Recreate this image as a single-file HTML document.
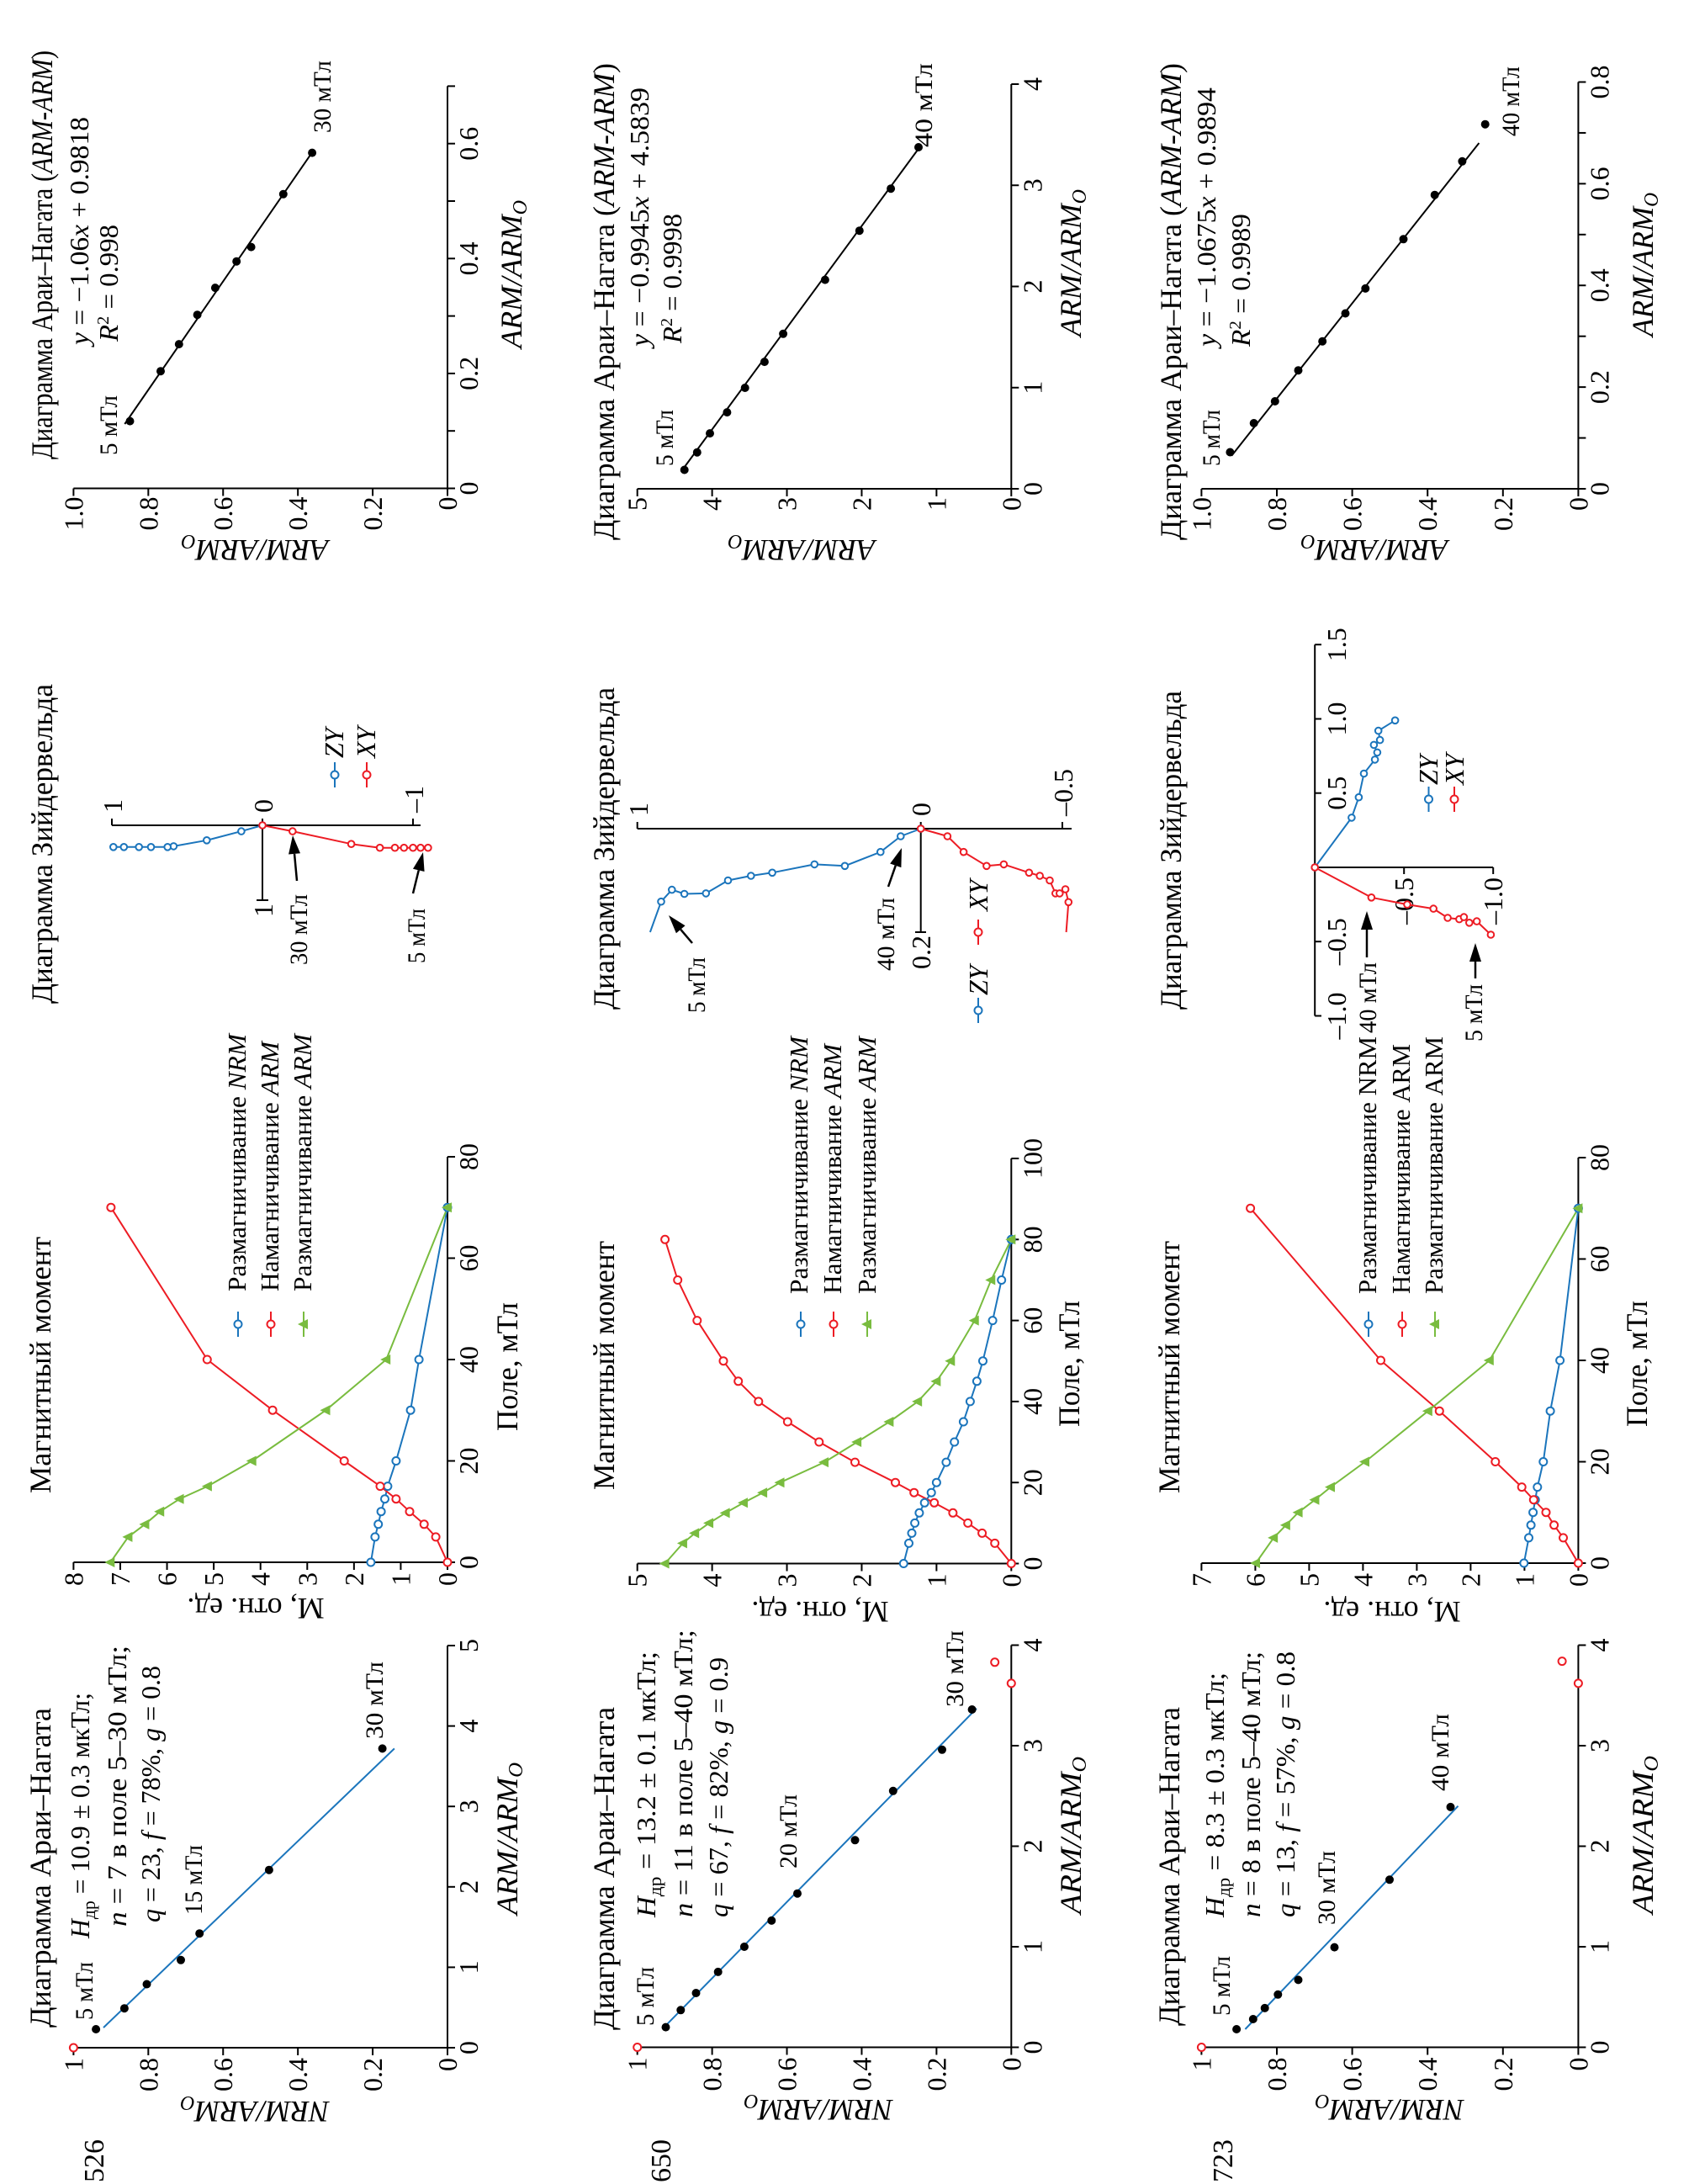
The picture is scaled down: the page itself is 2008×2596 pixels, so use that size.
<!DOCTYPE html>
<html><head><meta charset="utf-8"><title>Араи–Нагата / Зийдервельд</title>
<style>
html,body{margin:0;padding:0;background:#fff;}
svg{display:block;font-family:"Liberation Serif","DejaVu Serif",serif;}
text{fill:#000;}
</style></head>
<body>
<svg id="chart" xmlns="http://www.w3.org/2000/svg" width="2008" height="2596" viewBox="0 0 2008 2596">
<rect x="0" y="0" width="2008" height="2596" fill="#fff"/>
<g id="rot" transform="translate(0,2596) rotate(-90)">

<!-- ===== ROW 1 (526) ===== -->
<text x="2" y="123" font-size="34">526</text>
<text x="186" y="60" font-size="36" textLength="380" lengthAdjust="spacingAndGlyphs">Диаграмма Араи–Нагата</text>
<text x="292" y="106" font-size="32" textLength="292" lengthAdjust="spacingAndGlyphs"><tspan font-style="italic">H</tspan><tspan font-size="22" dy="7">др</tspan><tspan dy="-7"> = 10.9 ± 0.3 мкТл;</tspan></text>
<text x="306" y="150" font-size="32" textLength="334" lengthAdjust="spacingAndGlyphs"><tspan font-style="italic">n</tspan> = 7 в поле 5–30 мТл;</text>
<text x="311" y="190" font-size="32" textLength="305" lengthAdjust="spacingAndGlyphs"><tspan font-style="italic">q</tspan> = 23, <tspan font-style="italic">f</tspan> = 78%, <tspan font-style="italic">g</tspan> = 0.8</text>
<text x="195" y="110" font-size="30" textLength="69" lengthAdjust="spacingAndGlyphs">5 мТл</text>
<text x="320" y="240" font-size="30" textLength="83" lengthAdjust="spacingAndGlyphs">15 мТл</text>
<text x="529" y="455" font-size="30" textLength="92" lengthAdjust="spacingAndGlyphs">30 мТл</text>
<text transform="translate(98,303) rotate(-90)" text-anchor="middle" font-size="36" font-style="italic">NRM/ARM<tspan font-size="24" dy="6">O</tspan></text>
<text x="320" y="615" font-size="36" font-style="italic" textLength="181" lengthAdjust="spacingAndGlyphs">ARM/ARM<tspan font-size="24" dy="6">O</tspan></text>

<text x="821" y="60" font-size="36" textLength="305" lengthAdjust="spacingAndGlyphs">Магнитный момент</text>
<text transform="translate(696,304) rotate(-90)" text-anchor="middle" font-size="36">М, отн. ед.</text>
<text x="895" y="615" font-size="36" textLength="153" lengthAdjust="spacingAndGlyphs">Поле, мТл</text>
<text x="1061" y="292" font-size="31" textLength="306" lengthAdjust="spacingAndGlyphs">Размагничивание <tspan font-style="italic">NRM</tspan></text>
<text x="1061" y="331" font-size="31" textLength="297" lengthAdjust="spacingAndGlyphs">Намагничивание <tspan font-style="italic">ARM</tspan></text>
<text x="1061" y="370" font-size="31" textLength="306" lengthAdjust="spacingAndGlyphs">Размагничивание <tspan font-style="italic">ARM</tspan></text>

<text x="1403" y="62" font-size="36" textLength="380" lengthAdjust="spacingAndGlyphs">Диаграмма Зийдервельда</text>
<text x="1449" y="365" font-size="30" textLength="84" lengthAdjust="spacingAndGlyphs">30 мТл</text>
<text x="1451" y="505" font-size="30" textLength="65" lengthAdjust="spacingAndGlyphs">5 мТл</text>
<text x="1695" y="408" font-size="32" font-style="italic">ZY</text>
<text x="1695" y="446" font-size="32" font-style="italic">XY</text>
<g stroke="#000" stroke-width="2">
  <line x1="1615" y1="133" x2="1615" y2="500"/>
  <line x1="1615" y1="133" x2="1623" y2="133"/><line x1="1615" y1="312" x2="1623" y2="312"/><line x1="1615" y1="491" x2="1623" y2="491"/>
  <line x1="1526" y1="312" x2="1623" y2="312"/>
  <line x1="1526" y1="305" x2="1526" y2="319"/>
</g>
<text x="1630" y="145" font-size="32">1</text>
<text x="1630" y="324" font-size="32">0</text>
<text x="1630" y="503" font-size="32">–1</text>
<text x="1522" y="324" font-size="32" text-anchor="end">1</text>

<text x="2050" y="62" font-size="36" textLength="486" lengthAdjust="spacingAndGlyphs">Диаграмма Араи–Нагата (<tspan font-style="italic">ARM-ARM</tspan>)</text>
<text x="2186" y="105" font-size="32" textLength="271" lengthAdjust="spacingAndGlyphs"><tspan font-style="italic">y</tspan> = −1.06<tspan font-style="italic">x</tspan> + 0.9818</text>
<text x="2190" y="140" font-size="32" textLength="139" lengthAdjust="spacingAndGlyphs"><tspan font-style="italic">R</tspan><tspan font-size="20" dy="-11">2</tspan><tspan dy="11"> = 0.998</tspan></text>
<text x="2055" y="139" font-size="30" textLength="71" lengthAdjust="spacingAndGlyphs">5 мТл</text>
<text x="2438" y="393" font-size="30" textLength="86" lengthAdjust="spacingAndGlyphs">30 мТл</text>
<text x="2182" y="620" font-size="36" font-style="italic" textLength="176" lengthAdjust="spacingAndGlyphs">ARM/ARM<tspan font-size="24" dy="6">O</tspan></text>
<text transform="translate(1954,303) rotate(-90)" text-anchor="middle" font-size="36" font-style="italic">ARM/ARM<tspan font-size="24" dy="6">O</tspan></text>

<!-- ===== ROW 2 (650) ===== -->
<text x="2" y="797" font-size="34">650</text>
<text x="183" y="730" font-size="36" textLength="384" lengthAdjust="spacingAndGlyphs">Диаграмма Араи–Нагата</text>
<text x="317" y="779" font-size="32" textLength="316" lengthAdjust="spacingAndGlyphs"><tspan font-style="italic">H</tspan><tspan font-size="22" dy="7">др</tspan><tspan dy="-7"> = 13.2 ± 0.1 мкТл;</tspan></text>
<text x="317" y="823" font-size="32" textLength="342" lengthAdjust="spacingAndGlyphs"><tspan font-style="italic">n</tspan> = 11 в поле 5–40 мТл;</text>
<text x="317" y="865" font-size="32" textLength="309" lengthAdjust="spacingAndGlyphs"><tspan font-style="italic">q</tspan> = 67, <tspan font-style="italic">f</tspan> = 82%, <tspan font-style="italic">g</tspan> = 0.9</text>
<text x="188" y="777" font-size="30" textLength="70" lengthAdjust="spacingAndGlyphs">5 мТл</text>
<text x="375" y="947" font-size="30" textLength="88" lengthAdjust="spacingAndGlyphs">20 мТл</text>
<text x="567" y="1145" font-size="30" textLength="91" lengthAdjust="spacingAndGlyphs">30 мТл</text>
<text transform="translate(100,973) rotate(-90)" text-anchor="middle" font-size="36" font-style="italic">NRM/ARM<tspan font-size="24" dy="6">O</tspan></text>
<text x="321" y="1285" font-size="36" font-style="italic" textLength="187" lengthAdjust="spacingAndGlyphs">ARM/ARM<tspan font-size="24" dy="6">O</tspan></text>

<text x="825" y="730" font-size="36" textLength="296" lengthAdjust="spacingAndGlyphs">Магнитный момент</text>
<text transform="translate(692,975) rotate(-90)" text-anchor="middle" font-size="36">М, отн. ед.</text>
<text x="900" y="1283" font-size="36" textLength="150" lengthAdjust="spacingAndGlyphs">Поле, мТл</text>
<text x="1058" y="960" font-size="31" textLength="306" lengthAdjust="spacingAndGlyphs">Размагничивание <tspan font-style="italic">NRM</tspan></text>
<text x="1058" y="1000" font-size="31" textLength="297" lengthAdjust="spacingAndGlyphs">Намагничивание <tspan font-style="italic">ARM</tspan></text>
<text x="1058" y="1041" font-size="31" textLength="306" lengthAdjust="spacingAndGlyphs">Размагничивание <tspan font-style="italic">ARM</tspan></text>

<text x="1396" y="730" font-size="36" textLength="383" lengthAdjust="spacingAndGlyphs">Диаграмма Зийдервельда</text>
<text x="1392" y="838" font-size="30" textLength="66" lengthAdjust="spacingAndGlyphs">5 мТл</text>
<text x="1442" y="1063" font-size="30" textLength="87" lengthAdjust="spacingAndGlyphs">40 мТл</text>
<text x="1413" y="1174" font-size="32" font-style="italic">ZY</text>
<text x="1513" y="1174" font-size="32" font-style="italic">XY</text>
<g stroke="#000" stroke-width="2">
  <line x1="1611" y1="757.7" x2="1611" y2="1274"/>
  <line x1="1611" y1="757.7" x2="1619" y2="757.7"/><line x1="1611" y1="1094.7" x2="1619" y2="1094.7"/><line x1="1611" y1="1263" x2="1619" y2="1263"/>
  <line x1="1488" y1="1094.7" x2="1611" y2="1094.7"/>
  <line x1="1488" y1="1088" x2="1488" y2="1101"/>
</g>
<text x="1626" y="770" font-size="32">1</text>
<text x="1626" y="1106" font-size="32">0</text>
<text x="1626" y="1275" font-size="32">–0.5</text>
<text x="1484" y="1106" font-size="32" text-anchor="end">0.2</text>

<text x="1954" y="730" font-size="36" textLength="567" lengthAdjust="spacingAndGlyphs">Диаграмма Араи–Нагата (<tspan font-style="italic">ARM-ARM</tspan>)</text>
<text x="2184" y="771" font-size="32" textLength="308" lengthAdjust="spacingAndGlyphs"><tspan font-style="italic">y</tspan> = −0.9945<tspan font-style="italic">x</tspan> + 4.5839</text>
<text x="2188" y="810" font-size="32" textLength="154" lengthAdjust="spacingAndGlyphs"><tspan font-style="italic">R</tspan><tspan font-size="20" dy="-11">2</tspan><tspan dy="11"> = 0.9998</tspan></text>
<text x="2042" y="800" font-size="30" textLength="67" lengthAdjust="spacingAndGlyphs">5 мТл</text>
<text x="2421" y="1108" font-size="30" textLength="100" lengthAdjust="spacingAndGlyphs">40 мТл</text>
<text x="2196" y="1285" font-size="36" font-style="italic" textLength="175" lengthAdjust="spacingAndGlyphs">ARM/ARM<tspan font-size="24" dy="6">O</tspan></text>
<text transform="translate(1954,953) rotate(-90)" text-anchor="middle" font-size="36" font-style="italic">ARM/ARM<tspan font-size="24" dy="6">O</tspan></text>

<!-- ===== ROW 3 (723) ===== -->
<text x="2" y="1465" font-size="34">723</text>
<text x="188" y="1402" font-size="36" textLength="379" lengthAdjust="spacingAndGlyphs">Диаграмма Араи–Нагата</text>
<text x="317" y="1455" font-size="32" textLength="291" lengthAdjust="spacingAndGlyphs"><tspan font-style="italic">H</tspan><tspan font-size="22" dy="7">др</tspan><tspan dy="-7"> = 8.3 ± 0.3 мкТл;</tspan></text>
<text x="317" y="1498" font-size="32" textLength="316" lengthAdjust="spacingAndGlyphs"><tspan font-style="italic">n</tspan> = 8 в поле 5–40 мТл;</text>
<text x="317" y="1539" font-size="32" textLength="316" lengthAdjust="spacingAndGlyphs"><tspan font-style="italic">q</tspan> = 13, <tspan font-style="italic">f</tspan> = 57%, <tspan font-style="italic">g</tspan> = 0.8</text>
<text x="200" y="1462" font-size="30" textLength="71" lengthAdjust="spacingAndGlyphs">5 мТл</text>
<text x="308" y="1587" font-size="30" textLength="88" lengthAdjust="spacingAndGlyphs">30 мТл</text>
<text x="467" y="1722" font-size="30" textLength="92" lengthAdjust="spacingAndGlyphs">40 мТл</text>
<text transform="translate(100,1652) rotate(-90)" text-anchor="middle" font-size="36" font-style="italic">NRM/ARM<tspan font-size="24" dy="6">O</tspan></text>
<text x="321" y="1965" font-size="36" font-style="italic" textLength="188" lengthAdjust="spacingAndGlyphs">ARM/ARM<tspan font-size="24" dy="6">O</tspan></text>

<text x="821" y="1402" font-size="36" textLength="300" lengthAdjust="spacingAndGlyphs">Магнитный момент</text>
<text transform="translate(692,1655) rotate(-90)" text-anchor="middle" font-size="36">М, отн. ед.</text>
<text x="900" y="1958" font-size="36" textLength="150" lengthAdjust="spacingAndGlyphs">Поле, мТл</text>
<text x="1058" y="1636" font-size="31" textLength="306" lengthAdjust="spacingAndGlyphs">Размагничивание NRM</text>
<text x="1058" y="1676" font-size="31" textLength="297" lengthAdjust="spacingAndGlyphs">Намагничивание ARM</text>
<text x="1058" y="1715" font-size="31" textLength="306" lengthAdjust="spacingAndGlyphs">Размагничивание ARM</text>

<text x="1396" y="1404" font-size="36" textLength="379" lengthAdjust="spacingAndGlyphs">Диаграмма Зийдервельда</text>
<text x="1368" y="1636" font-size="30" textLength="84" lengthAdjust="spacingAndGlyphs">40 мТл</text>
<text x="1358" y="1762" font-size="30" textLength="68" lengthAdjust="spacingAndGlyphs">5 мТл</text>
<text x="1663" y="1709" font-size="32" font-style="italic">ZY</text>
<text x="1663" y="1740" font-size="32" font-style="italic">XY</text>
<g stroke="#000" stroke-width="2">
  <line x1="1388.5" y1="1563.2" x2="1829.8" y2="1563.2"/>
  <line x1="1388.5" y1="1563.2" x2="1388.5" y2="1571"/><line x1="1476.8" y1="1563.2" x2="1476.8" y2="1571"/><line x1="1565" y1="1563.2" x2="1565" y2="1571"/><line x1="1653.3" y1="1563.2" x2="1653.3" y2="1571"/><line x1="1741.5" y1="1563.2" x2="1741.5" y2="1571"/><line x1="1829.8" y1="1563.2" x2="1829.8" y2="1571"/>
  <line x1="1565" y1="1563.2" x2="1565" y2="1775.2"/>
  <line x1="1557" y1="1669.2" x2="1565" y2="1669.2"/><line x1="1557" y1="1775.2" x2="1565" y2="1775.2"/>
</g>
<text x="1388.5" y="1600" font-size="32" text-anchor="middle">–1.0</text>
<text x="1476.8" y="1600" font-size="32" text-anchor="middle">–0.5</text>
<text x="1653.3" y="1600" font-size="32" text-anchor="middle">0.5</text>
<text x="1741.5" y="1600" font-size="32" text-anchor="middle">1.0</text>
<text x="1829.8" y="1600" font-size="32" text-anchor="middle">1.5</text>
<text x="1553" y="1680" font-size="32" text-anchor="end">–0.5</text>
<text x="1553" y="1786" font-size="32" text-anchor="end">–1.0</text>

<text x="1954" y="1404" font-size="36" textLength="567" lengthAdjust="spacingAndGlyphs">Диаграмма Араи–Нагата (<tspan font-style="italic">ARM-ARM</tspan>)</text>
<text x="2184" y="1445" font-size="32" textLength="308" lengthAdjust="spacingAndGlyphs"><tspan font-style="italic">y</tspan> = −1.0675<tspan font-style="italic">x</tspan> + 0.9894</text>
<text x="2184" y="1486" font-size="32" textLength="158" lengthAdjust="spacingAndGlyphs"><tspan font-style="italic">R</tspan><tspan font-size="20" dy="-11">2</tspan><tspan dy="11"> = 0.9989</tspan></text>
<text x="2042" y="1450" font-size="30" textLength="67" lengthAdjust="spacingAndGlyphs">5 мТл</text>
<text x="2434" y="1806" font-size="30" textLength="83" lengthAdjust="spacingAndGlyphs">40 мТл</text>
<text x="2196" y="1965" font-size="36" font-style="italic" textLength="171" lengthAdjust="spacingAndGlyphs">ARM/ARM<tspan font-size="24" dy="6">O</tspan></text>
<text transform="translate(1954,1634) rotate(-90)" text-anchor="middle" font-size="36" font-style="italic">ARM/ARM<tspan font-size="24" dy="6">O</tspan></text>

<g id="marks"></g>
</g>
</svg>

<script>
// ================= DATA =================
const r1AraiARM = [0.23, 0.49, 0.79, 1.09, 1.42, 2.21, 3.72];
const r1AraiNRM = [0.94, 0.864, 0.804, 0.713, 0.663, 0.477, 0.174];
const r1AraiOutARM = [0];
const r1AraiOutNRM = [1];
const r1AraiFitARM = [0.25, 3.72];
const r1AraiFitNRM = [0.92, 0.142];
const r1AraiXTicks = [0, 1, 2, 3, 4, 5];
const r1AraiXLabels = ['0', '1', '2', '3', '4', '5'];
const r1AraiYTicks = [0, 0.2, 0.4, 0.6, 0.8, 1];
const r1AraiYLabels = ['0', '0.2', '0.4', '0.6', '0.8', '1'];
const r1Field = [0, 5, 7.5, 10, 12.5, 15, 20, 30, 40, 70];
const r1NRMdemag = [1.64, 1.55, 1.48, 1.42, 1.34, 1.28, 1.10, 0.79, 0.61, 0];
const r1ARMacq = [0, 0.25, 0.5, 0.81, 1.1, 1.44, 2.21, 3.74, 5.14, 7.2];
const r1ARMdemag = [7.21, 6.83, 6.47, 6.15, 5.73, 5.13, 4.18, 2.6, 1.31, 0];
const r1MomXTicks = [0, 20, 40, 60, 80];
const r1MomYTicks = [0, 1, 2, 3, 4, 5, 6, 7, 8];
const r1ZijZYh = [0, 0.08, 0.2, 0.28, 0.29, 0.29, 0.29, 0.29, 0.29];
const r1ZijZYv = [0, 0.14, 0.37, 0.59, 0.63, 0.74, 0.82, 0.92, 0.99];
const r1ZijXYh = [0, 0.08, 0.25, 0.3, 0.3, 0.3, 0.3, 0.3, 0.3];
const r1ZijXYv = [0, -0.2, -0.59, -0.78, -0.88, -0.94, -1.0, -1.05, -1.1];
const r1ArmX = [0.117, 0.204, 0.251, 0.302, 0.349, 0.395, 0.420, 0.512, 0.584];
const r1ArmY = [0.849, 0.767, 0.718, 0.669, 0.621, 0.564, 0.525, 0.439, 0.362];
const r1ArmFitSlope = [-1.06];
const r1ArmFitIntercept = [0.9818];
const r1ArmFitRange = [0.112, 0.588];
const r1ArmXTicks = [0, 0.1, 0.2, 0.3, 0.4, 0.5, 0.6, 0.7];
const r1ArmXLabels = ['0', '', '0.2', '', '0.4', '', '0.6', ''];
const r1ArmYTicks = [0, 0.2, 0.4, 0.6, 0.8, 1];
const r1ArmYLabels = ['0', '0.2', '0.4', '0.6', '0.8', '1.0'];

const r2AraiARM = [0.20, 0.37, 0.54, 0.75, 1.0, 1.26, 1.53, 2.06, 2.55, 2.96, 3.36];
const r2AraiNRM = [0.924, 0.884, 0.843, 0.784, 0.714, 0.641, 0.572, 0.418, 0.316, 0.185, 0.105];
const r2AraiOutARM = [0, 3.83, 3.62];
const r2AraiOutNRM = [1, 0.044, 0];
const r2AraiFitARM = [0.19, 3.37];
const r2AraiFitNRM = [0.931, 0.093];
const r2AraiXTicks = [0, 1, 2, 3, 4];
const r2AraiXLabels = ['0', '1', '2', '3', '4'];
const r2AraiYTicks = [0, 0.2, 0.4, 0.6, 0.8, 1];
const r2AraiYLabels = ['0', '0.2', '0.4', '0.6', '0.8', '1'];
const r2Field = [0, 5, 7.5, 10, 12.5, 15, 17.5, 20, 25, 30, 35, 40, 45, 50, 60, 70, 80];
const r2NRMdemag = [1.44, 1.37, 1.33, 1.29, 1.23, 1.16, 1.07, 1.0, 0.87, 0.76, 0.64, 0.55, 0.46, 0.38, 0.25, 0.13, 0];
const r2ARMacq = [0, 0.22, 0.39, 0.58, 0.78, 1.03, 1.30, 1.55, 2.09, 2.57, 2.99, 3.38, 3.65, 3.85, 4.2, 4.46, 4.63];
const r2ARMdemag = [4.63, 4.39, 4.23, 4.04, 3.82, 3.58, 3.32, 3.09, 2.5, 2.06, 1.63, 1.25, 1.0, 0.81, 0.49, 0.27, 0];
const r2MomXTicks = [0, 20, 40, 60, 80, 100];
const r2MomYTicks = [0, 1, 2, 3, 4, 5];
const r2ZijZYh = [0, 0.0146, 0.045, 0.072, 0.069, 0.085, 0.091, 0.10, 0.125, 0.126, 0.118, 0.141];
const r2ZijZYv = [0, 0.071, 0.142, 0.268, 0.375, 0.524, 0.599, 0.68, 0.758, 0.834, 0.878, 0.916];
const r2ZijZYtailH = [0.141, 0.2];
const r2ZijZYtailV = [0.916, 0.955];
const r2ZijXYh = [0, 0.0146, 0.045, 0.072, 0.069, 0.085, 0.091, 0.10, 0.125, 0.125, 0.117, 0.142];
const r2ZijXYv = [0, -0.094, -0.151, -0.232, -0.293, -0.382, -0.42, -0.455, -0.475, -0.49, -0.51, -0.521];
const r2ZijXYtailH = [0.142, 0.2];
const r2ZijXYtailV = [-0.521, -0.513];
const r2ArmX = [0.187, 0.36, 0.548, 0.756, 0.998, 1.255, 1.532, 2.066, 2.551, 2.967, 3.376];
const r2ArmY = [4.37, 4.20, 4.03, 3.80, 3.56, 3.30, 3.05, 2.49, 2.03, 1.61, 1.24];
const r2ArmFitSlope = [-0.9945];
const r2ArmFitIntercept = [4.5839];
const r2ArmFitRange = [0.17, 3.39];
const r2ArmXTicks = [0, 1, 2, 3, 4];
const r2ArmXLabels = ['0', '1', '2', '3', '4'];
const r2ArmYTicks = [0, 1, 2, 3, 4, 5];
const r2ArmYLabels = ['0', '1', '2', '3', '4', '5'];

const r3AraiARM = [0.18, 0.28, 0.39, 0.525, 0.67, 0.995, 1.667, 2.39];
const r3AraiNRM = [0.907, 0.863, 0.832, 0.797, 0.743, 0.647, 0.501, 0.339];
const r3AraiOutARM = [0, 3.84, 3.62];
const r3AraiOutNRM = [1, 0.043, 0];
const r3AraiFitARM = [0.18, 2.40];
const r3AraiFitNRM = [0.884, 0.319];
const r3AraiXTicks = [0, 1, 2, 3, 4];
const r3AraiXLabels = ['0', '1', '2', '3', '4'];
const r3AraiYTicks = [0, 0.2, 0.4, 0.6, 0.8, 1];
const r3AraiYLabels = ['0', '0.2', '0.4', '0.6', '0.8', '1'];
const r3Field = [0, 5, 7.5, 10, 12.5, 15, 20, 30, 40, 70];
const r3NRMdemag = [1.01, 0.92, 0.88, 0.84, 0.80, 0.76, 0.65, 0.52, 0.34, 0];
const r3ARMacq = [0, 0.28, 0.45, 0.60, 0.83, 1.05, 1.54, 2.58, 3.67, 6.09];
const r3ARMdemag = [5.99, 5.66, 5.43, 5.2, 4.89, 4.6, 3.96, 2.79, 1.65, 0];
const r3MomXTicks = [0, 20, 40, 60, 80];
const r3MomYTicks = [0, 1, 2, 3, 4, 5, 6, 7];
const r3ZijZYh = [0, 0.335, 0.472, 0.632, 0.726, 0.774, 0.825, 0.858, 0.92, 0.99];
const r3ZijZYv = [0, -0.206, -0.246, -0.275, -0.337, -0.35, -0.331, -0.365, -0.356, -0.45];
const r3ZijXYh = [0, -0.203, -0.25, -0.278, -0.34, -0.349, -0.335, -0.373, -0.363, -0.453];
const r3ZijXYv = [0, -0.317, -0.518, -0.665, -0.745, -0.81, -0.836, -0.866, -0.908, -0.987];
const r3ArmX = [0.072, 0.129, 0.172, 0.233, 0.29, 0.345, 0.394, 0.491, 0.578, 0.644, 0.717];
const r3ArmY = [0.924, 0.861, 0.805, 0.743, 0.679, 0.618, 0.565, 0.464, 0.381, 0.308, 0.247];
const r3ArmFitSlope = [-1.0675];
const r3ArmFitIntercept = [0.9894];
const r3ArmFitRange = [0.065, 0.68];
const r3ArmXTicks = [0, 0.1, 0.2, 0.3, 0.4, 0.5, 0.6, 0.7, 0.8];
const r3ArmXLabels = ['0', '', '0.2', '', '0.4', '', '0.6', '', '0.8'];
const r3ArmYTicks = [0, 0.2, 0.4, 0.6, 0.8, 1];
const r3ArmYLabels = ['0', '0.2', '0.4', '0.6', '0.8', '1.0'];

// ================= DRAWING =================
const NS = 'http://www.w3.org/2000/svg';
const BLUE = '#1b75bc', RED = '#ed1c24', GREEN = '#79bc3f', BLACK = '#000';
const root = document.getElementById('marks');

function lin(d0, d1, p0, p1) { return function (x) { return p0 + (x - d0) * (p1 - p0) / (d1 - d0); }; }

function mk(tag, parent, name) {
  const e = document.createElementNS(NS, tag);
  
  
  parent.appendChild(e);
  return e;
}
function line(parent, u1, v1, u2, v2, color, w, name) {
  const e = mk('line', parent, name);
  e.setAttribute('x1', u1); e.setAttribute('y1', v1);
  e.setAttribute('x2', u2); e.setAttribute('y2', v2);
  e.setAttribute('stroke', color); e.setAttribute('stroke-width', w);
  return e;
}
function label(parent, u, v, str, anchor, name) {
  const e = mk('text', parent, name);
  e.setAttribute('x', u); e.setAttribute('y', v);
  e.setAttribute('font-size', '32');
  e.setAttribute('text-anchor', anchor);
  e.textContent = str;
  return e;
}
function poly(parent, p, xs, ys, color, name) {
  const e = mk('polyline', parent, name);
  const pts = xs.map(function (x, i) { return p.fu(x).toFixed(1) + ',' + p.fv(ys[i]).toFixed(1); }).join(' ');
  e.setAttribute('points', pts);
  e.setAttribute('fill', 'none'); e.setAttribute('stroke', color);
  e.setAttribute('stroke-width', '2'); e.setAttribute('stroke-linejoin', 'round');
  return e;
}
function circles(parent, p, xs, ys, color, r, filled, name) {
  xs.forEach(function (x, i) {
    const c = mk('circle', parent, name);
    c.setAttribute('cx', p.fu(x).toFixed(1)); c.setAttribute('cy', p.fv(ys[i]).toFixed(1));
    c.setAttribute('r', r);
    c.setAttribute('fill', filled ? color : '#fff');
    c.setAttribute('stroke', color); c.setAttribute('stroke-width', filled ? '1' : '2');
  });
}
function triangles(parent, p, xs, ys, color, name) {
  xs.forEach(function (x, i) {
    const u = p.fu(x), v = p.fv(ys[i]);
    const t = mk('polygon', parent, name);
    t.setAttribute('points', (u) + ',' + (v - 7) + ' ' + (u - 6) + ',' + (v + 5) + ' ' + (u + 6) + ',' + (v + 5));
    t.setAttribute('fill', color);
  });
}
function lAxes(parent, p, xt, xl, yt, yl, yLabelGap, name) {
  const u0 = p.fu(0), v0 = p.fv(0);
  line(parent, u0, v0, u0, p.fv(yt[yt.length - 1]), BLACK, 2, name + '-y-axis');
  line(parent, u0, v0, p.fu(xt[xt.length - 1]), v0, BLACK, 2, name + '-x-axis');
  yt.forEach(function (t, i) {
    line(parent, u0 - 9, p.fv(t), u0, p.fv(t), BLACK, 2, name + '-y-tick');
    if (yl[i] !== '') label(parent, u0 - yLabelGap, p.fv(t) + 11, yl[i], 'end', name + '-y-tick-label');
  });
  xt.forEach(function (t, i) {
    line(parent, p.fu(t), v0, p.fu(t), v0 + 9, BLACK, 2, name + '-x-tick');
    if (xl[i] !== '') label(parent, p.fu(t), v0 + 36, xl[i], 'middle', name + '-x-tick-label');
  });
}
function arrow(parent, u1, v1, u2, v2, name) {
  const dx = u2 - u1, dy = v2 - v1, L = Math.hypot(dx, dy), ux = dx / L, uy = dy / L;
  const hl = 22, hw = 7;
  const bu = u2 - ux * hl, bv = v2 - uy * hl;
  line(parent, u1, v1, bu, bv, BLACK, 2.5, name + '-shaft');
  const h = mk('polygon', parent, name + '-head');
  h.setAttribute('points', u2 + ',' + v2 + ' ' + (bu - uy * hw) + ',' + (bv + ux * hw) + ' ' + (bu + uy * hw) + ',' + (bv - ux * hw));
  h.setAttribute('fill', BLACK);
}
function legendMarker(parent, u, v, color, kind, name) {
  line(parent, u - 15, v, u + 15, v, color, 2, name + '-line');
  if (kind === 'tri') {
    const t = mk('polygon', parent, name + '-marker');
    t.setAttribute('points', u + ',' + (v - 7) + ' ' + (u - 6) + ',' + (v + 5) + ' ' + (u + 6) + ',' + (v + 5));
    t.setAttribute('fill', color);
  } else {
    const c = mk('circle', parent, name + '-marker');
    c.setAttribute('cx', u); c.setAttribute('cy', v); c.setAttribute('r', 4.5);
    c.setAttribute('fill', '#fff'); c.setAttribute('stroke', color); c.setAttribute('stroke-width', 2);
  }
}

const A1 = { fu: lin(0, 5, 162, 640), fv: lin(0, 1, 532, 87.4) };
const A2 = { fu: lin(0, 4, 162.5, 640.5), fv: lin(0, 1, 1202.3, 757.7) };
const A3 = { fu: lin(0, 4, 162.5, 640.5), fv: lin(0, 1, 1876.4, 1428.4) };
const B1 = { fu: lin(0, 80, 739, 1221), fv: lin(0, 8, 532, 87.4) };
const B2 = { fu: lin(0, 100, 737.5, 1219), fv: lin(0, 5, 1202.3, 757.7) };
const B3 = { fu: lin(0, 80, 738, 1220), fv: lin(0, 7, 1876.4, 1428.4) };
const C1 = { fu: lin(0, 1, 1615, 1526), fv: lin(0, 1, 312, 133) };
const C2 = { fu: lin(0, 1, 1611, 996), fv: lin(0, 1, 1094.7, 757.7) };
const C3 = { fu: lin(0, 1, 1565, 1741.5), fv: lin(0, 1, 1563.2, 1351.2) };
const D1 = { fu: lin(0, 0.7, 2015.5, 2493.6), fv: lin(0, 1, 532, 87.4) };
const D2 = { fu: lin(0, 4, 2015, 2496), fv: lin(0, 5, 1202.3, 757.7) };
const D3 = { fu: lin(0, 0.8, 2015, 2498.5), fv: lin(0, 1, 1876.4, 1428.4) };

function drawArai(p, ticks, d, tag) {
  const g = mk('g', root, 'arai-panel-' + tag);
  lAxes(g, p, ticks[0], ticks[1], ticks[2], ticks[3], 12, 'arai-' + tag);
  poly(g, p, d.fitX, d.fitY, BLUE, 'arai-fit-line-' + tag);
  circles(g, p, d.x, d.y, BLACK, 4.5, true, 'arai-point-' + tag);
  circles(g, p, d.ox, d.oy, RED, 4.5, false, 'arai-excluded-point-' + tag);
}
function drawMoment(p, xt, yt, field, nrm, acq, dem, legV, tag) {
  const g = mk('g', root, 'moment-panel-' + tag);
  lAxes(g, p, xt, xt.map(String), yt, yt.map(String), 12, 'moment-' + tag);
  poly(g, p, field, nrm, BLUE, 'nrm-demag-line-' + tag);
  poly(g, p, field, acq, RED, 'arm-acq-line-' + tag);
  poly(g, p, field, dem, GREEN, 'arm-demag-line-' + tag);
  circles(g, p, field, nrm, BLUE, 4.5, false, 'nrm-demag-point-' + tag);
  circles(g, p, field, acq, RED, 4.5, false, 'arm-acq-point-' + tag);
  triangles(g, p, field, dem, GREEN, 'arm-demag-point-' + tag);
  legendMarker(g, 1022, legV[0], BLUE, 'circ', 'legend-nrm-demag-' + tag);
  legendMarker(g, 1022, legV[1], RED, 'circ', 'legend-arm-acq-' + tag);
  legendMarker(g, 1022, legV[2], GREEN, 'tri', 'legend-arm-demag-' + tag);
}
function drawArm(p, ticks, x, y, slope, icpt, range, tag) {
  const g = mk('g', root, 'armarm-panel-' + tag);
  lAxes(g, p, ticks[0], ticks[1], ticks[2], ticks[3], 10, 'armarm-' + tag);
  const fy = range.map(function (xx) { return slope[0] * xx + icpt[0]; });
  poly(g, p, range, fy, BLACK, 'armarm-fit-line-' + tag);
  circles(g, p, x, y, BLACK, 4.5, true, 'armarm-point-' + tag);
}

drawArai(A1, [r1AraiXTicks, r1AraiXLabels, r1AraiYTicks, r1AraiYLabels],
  { x: r1AraiARM, y: r1AraiNRM, ox: r1AraiOutARM, oy: r1AraiOutNRM, fitX: r1AraiFitARM, fitY: r1AraiFitNRM }, '526');
drawMoment(B1, r1MomXTicks, r1MomYTicks, r1Field, r1NRMdemag, r1ARMacq, r1ARMdemag, [283, 322, 361], '526');
drawArm(D1, [r1ArmXTicks, r1ArmXLabels, r1ArmYTicks, r1ArmYLabels], r1ArmX, r1ArmY, r1ArmFitSlope, r1ArmFitIntercept, r1ArmFitRange, '526');
(function () {
  const g = mk('g', root, 'zij-panel-526');
  poly(g, C1, r1ZijZYh, r1ZijZYv, BLUE, 'zij-zy-line-526');
  poly(g, C1, r1ZijXYh, r1ZijXYv, RED, 'zij-xy-line-526');
  circles(g, C1, r1ZijZYh, r1ZijZYv, BLUE, 3.8, false, 'zij-zy-point-526');
  circles(g, C1, r1ZijXYh, r1ZijXYv, RED, 3.8, false, 'zij-xy-point-526');
  legendMarker(g, 1675, 398, BLUE, 'circ', 'zij-legend-zy-526');
  legendMarker(g, 1675, 436, RED, 'circ', 'zij-legend-xy-526');
  arrow(g, 1549, 353, 1603, 348, 'zij-arrow-30mt-526');
  arrow(g, 1534, 491, 1583, 503, 'zij-arrow-5mt-526');
})();

drawArai(A2, [r2AraiXTicks, r2AraiXLabels, r2AraiYTicks, r2AraiYLabels],
  { x: r2AraiARM, y: r2AraiNRM, ox: r2AraiOutARM, oy: r2AraiOutNRM, fitX: r2AraiFitARM, fitY: r2AraiFitNRM }, '650');
drawMoment(B2, r2MomXTicks, r2MomYTicks, r2Field, r2NRMdemag, r2ARMacq, r2ARMdemag, [952, 991, 1031], '650');
drawArm(D2, [r2ArmXTicks, r2ArmXLabels, r2ArmYTicks, r2ArmYLabels], r2ArmX, r2ArmY, r2ArmFitSlope, r2ArmFitIntercept, r2ArmFitRange, '650');
(function () {
  const g = mk('g', root, 'zij-panel-650');
  poly(g, C2, r2ZijZYh, r2ZijZYv, BLUE, 'zij-zy-line-650');
  poly(g, C2, r2ZijZYtailH, r2ZijZYtailV, BLUE, 'zij-zy-tail-650');
  poly(g, C2, r2ZijXYh, r2ZijXYv, RED, 'zij-xy-line-650');
  poly(g, C2, r2ZijXYtailH, r2ZijXYtailV, RED, 'zij-xy-tail-650');
  circles(g, C2, r2ZijZYh, r2ZijZYv, BLUE, 3.8, false, 'zij-zy-point-650');
  circles(g, C2, r2ZijXYh, r2ZijXYv, RED, 3.8, false, 'zij-xy-point-650');
  legendMarker(g, 1395, 1163, BLUE, 'circ', 'zij-legend-zy-650');
  legendMarker(g, 1488, 1163, RED, 'circ', 'zij-legend-xy-650');
  arrow(g, 1475, 823, 1508, 795, 'zij-arrow-5mt-650');
  arrow(g, 1542, 1056, 1588, 1072, 'zij-arrow-40mt-650');
})();

drawArai(A3, [r3AraiXTicks, r3AraiXLabels, r3AraiYTicks, r3AraiYLabels],
  { x: r3AraiARM, y: r3AraiNRM, ox: r3AraiOutARM, oy: r3AraiOutNRM, fitX: r3AraiFitARM, fitY: r3AraiFitNRM }, '723');
drawMoment(B3, r3MomXTicks, r3MomYTicks, r3Field, r3NRMdemag, r3ARMacq, r3ARMdemag, [1627, 1667, 1706], '723');
drawArm(D3, [r3ArmXTicks, r3ArmXLabels, r3ArmYTicks, r3ArmYLabels], r3ArmX, r3ArmY, r3ArmFitSlope, r3ArmFitIntercept, r3ArmFitRange, '723');
(function () {
  const g = mk('g', root, 'zij-panel-723');
  poly(g, C3, r3ZijZYh, r3ZijZYv, BLUE, 'zij-zy-line-723');
  poly(g, C3, r3ZijXYh, r3ZijXYv, RED, 'zij-xy-line-723');
  circles(g, C3, r3ZijZYh, r3ZijZYv, BLUE, 3.8, false, 'zij-zy-point-723');
  circles(g, C3, r3ZijXYh, r3ZijXYv, RED, 3.8, false, 'zij-xy-point-723');
  legendMarker(g, 1646, 1698.5, BLUE, 'circ', 'zij-legend-zy-723');
  legendMarker(g, 1646, 1729, RED, 'circ', 'zij-legend-xy-723');
  arrow(g, 1458, 1625, 1513, 1625, 'zij-arrow-40mt-723');
  arrow(g, 1433, 1754, 1475, 1754, 'zij-arrow-5mt-723');
})();
</script>
</body></html>
